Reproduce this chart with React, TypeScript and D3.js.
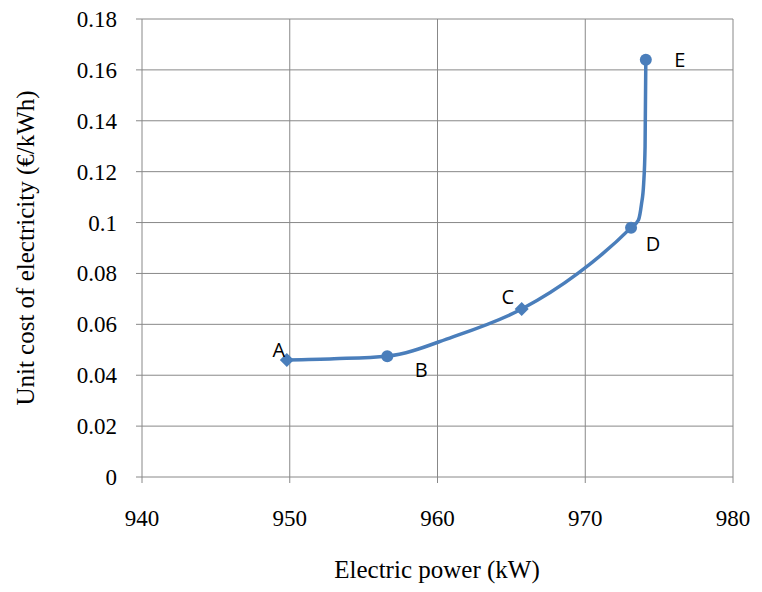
import React from "react";
import * as d3 from "d3";

const curveX = [949.8, 953, 956.6, 961, 965.7, 969.5, 973.1, 973.6, 973.8, 973.95, 974.05, 974.1];
const curveY = [0.046, 0.0465, 0.0475, 0.055, 0.066, 0.08, 0.098, 0.101, 0.107, 0.115, 0.13, 0.164];
const ptLabels = ["A", "B", "C", "D", "E"];
const ptX = [949.8, 956.6, 965.7, 973.1, 974.1];
const ptY = [0.046, 0.0475, 0.066, 0.098, 0.164];
const ptShape = ["diamond", "circle", "diamond", "circle", "circle"];
const labelDx = [-8, 34, -14, 22, 34];
const labelDy = [-10, 14, -12, 16, 0];
const xTicks = [940, 950, 960, 970, 980];
const yTicks = [0, 0.02, 0.04, 0.06, 0.08, 0.1, 0.12, 0.14, 0.16, 0.18];

export default function App() {
  const x = d3.scaleLinear().domain([940, 980]).range([142, 733]);
  const y = d3.scaleLinear().domain([0, 0.18]).range([477, 19]);
  const line = d3.line<number>().x((_, i) => x(curveX[i])).y((d) => y(d)).curve(d3.curveMonotoneX);
  const color = "#4a7ebb";
  const serifFam = "Liberation Serif";
  const sansFam = "Open Sans";
  return (
    <svg width={762} height={592} style={{ position: "absolute", left: 0, top: 0 }}>
      <rect width={762} height={592} fill="white" />
      {xTicks.map((t) => (
        <line key={"gx" + t} x1={x(t)} x2={x(t)} y1={y(0.18)} y2={y(0)} stroke="#888" strokeWidth={1} />
      ))}
      {yTicks.map((t) => (
        <line key={"gy" + t} x1={x(940)} x2={x(980)} y1={y(t)} y2={y(t)} stroke="#888" strokeWidth={1} />
      ))}
      {xTicks.map((t) => (
        <g key={"tx" + t}>
          <line x1={x(t)} x2={x(t)} y1={y(0)} y2={y(0) + 6} stroke="#888" />
          <text x={x(t)} y={526} textAnchor="middle" fontFamily={serifFam} fontSize={23}>{t}</text>
        </g>
      ))}
      {yTicks.map((t) => (
        <g key={"ty" + t}>
          <line x1={x(940) - 6} x2={x(940)} y1={y(t)} y2={y(t)} stroke="#888" />
          <text x={117} y={y(t) + 8} textAnchor="end" fontFamily={serifFam} fontSize={23}>{t === 0 ? "0" : String(+t.toFixed(2))}</text>
        </g>
      ))}
      <text x={437} y={578} textAnchor="middle" fontFamily={serifFam} fontSize={25}>Electric power (kW)</text>
      <text transform="translate(34,248) rotate(-90)" textAnchor="middle" fontFamily={serifFam} fontSize={25}>Unit cost of electricity (€/kWh)</text>
      <path d={line(curveY) || ""} fill="none" stroke={color} strokeWidth={3.5} />
      {ptX.map((v, i) => {
        const cx = x(v), cy = y(ptY[i]);
        return (
          <g key={"p" + i}>
            {ptShape[i] === "circle" ? (
              <circle cx={cx} cy={cy} r={6} fill={color} />
            ) : (
              <path d={`M${cx},${cy - 7}L${cx + 7},${cy}L${cx},${cy + 7}L${cx - 7},${cy}Z`} fill={color} />
            )}
            <text x={cx + labelDx[i]} y={cy + labelDy[i] + 7} textAnchor="middle" fontFamily={sansFam} fontSize={20}>{ptLabels[i]}</text>
          </g>
        );
      })}
    </svg>
  );
}
